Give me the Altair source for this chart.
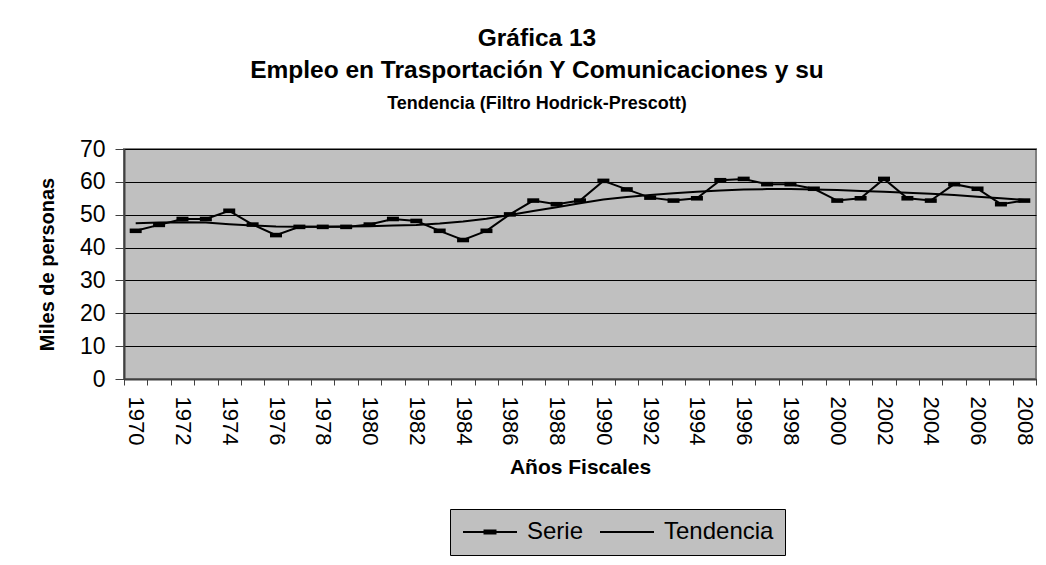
import altair as alt
import pandas as pd

# ---- data ----
years = list(range(1970, 2009))
serie = [45.1, 46.9, 48.7, 48.7, 51.2, 47.0, 43.8, 46.3, 46.3, 46.3,
         47.0, 48.7, 48.1, 45.1, 42.3, 45.1, 50.1, 54.3, 53.2, 54.3,
         60.3, 57.7, 55.2, 54.3, 55.0, 60.5, 60.9, 59.3, 59.3, 57.9,
         54.3, 55.0, 60.9, 55.0, 54.3, 59.3, 57.9, 53.2, 54.3]
tendencia = [47.4, 47.6, 47.7, 47.6, 47.1, 46.7, 46.4, 46.3, 46.3, 46.4,
             46.5, 46.7, 46.9, 47.3, 47.9, 48.8, 49.9, 51.1, 52.3, 53.5,
             54.6, 55.4, 56.0, 56.5, 57.0, 57.4, 57.7, 57.8, 57.8, 57.7,
             57.5, 57.2, 57.0, 56.7, 56.4, 56.0, 55.5, 55.0, 54.5]
series_names = ["Serie", "Tendencia"]
y_ticks = [0, 10, 20, 30, 40, 50, 60, 70]

rows = []
for name, vals in zip(series_names, [serie, tendencia]):
    for yr, v in zip(years, vals):
        rows.append({"year": yr, "value": v, "series": name})
df = pd.DataFrame(rows)

# ---- layout / style ----
W, H = 912, 230
step = W / len(years)
boundaries = [years[0] - 0.5 + i for i in range(len(years) + 1)]
FONT = "Liberation Sans"
MARKER = "M-1,-0.38H1V0.38H-1Z"
# legend symbols: drawn in units of 10px (symbolSize 400), line 54px long
LEG_SERIE = "M-1,0H4.4M1.05,-0.15H2.35M1.05,0.15H2.35"
LEG_TEND = "M-1,0H4.4"

x_enc = alt.X(
    "year:Q",
    scale=alt.Scale(domain=[years[0] - 0.5, years[-1] + 0.5], nice=False, zero=False),
    axis=alt.Axis(
        values=boundaries,
        labelExpr="(datum.value + 0.5) % 2 == 0 ? '' + (datum.value + 0.5) : ''",
        labelAngle=90, labelOffset=step / 2, labelPadding=11,
        labelFont=FONT, labelFontSize=22, labelColor="black",
        labelOverlap=False, labelFlush=False, labelBound=False,
        tickSize=6, tickColor="#404040", domainColor="#404040", domainWidth=2,
        grid=False,
        title="Años Fiscales", titleFont=FONT, titleFontSize=21,
        titleFontWeight="bold", titleColor="black",
        titleX=W / 2, titleY=88, titleAlign="center", titleBaseline="middle",
    ),
)
y_enc = alt.Y(
    "value:Q",
    scale=alt.Scale(domain=[0, 70], nice=False),
    axis=alt.Axis(
        values=y_ticks, grid=True, gridColor="black", gridWidth=1, gridOpacity=1,
        labelFont=FONT, labelFontSize=23, labelColor="black", labelPadding=10,
        tickSize=9, tickColor="#404040", domainColor="#404040", domainWidth=2,
        title="Miles de personas", titleFont=FONT, titleFontSize=20,
        titleFontWeight="bold", titleColor="black",
        titleX=-77, titleY=H / 2, titleAngle=270, titleAlign="center",
        titleBaseline="middle",
    ),
)

base = alt.Chart(df)

lines = base.mark_line(color="black", strokeWidth=2).encode(
    x=x_enc, y=y_enc, detail="series:N"
)
points = base.transform_filter(alt.datum.series == "Serie").mark_point(
    shape=MARKER, size=144, filled=True, color="black", opacity=1
).encode(x=x_enc, y=y_enc)

legend_layer = base.mark_point(opacity=0, filled=False, color="black", strokeWidth=2).encode(
    x=x_enc, y=y_enc,
    shape=alt.Shape(
        "series:N",
        scale=alt.Scale(domain=series_names, range=[LEG_SERIE, LEG_TEND]),
        legend=alt.Legend(
            title=None, orient="none", legendX=326, legendY=360,
            direction="horizontal", fillColor="#C0C0C0", strokeColor="black",
            padding=11, symbolSize=400, symbolStrokeWidth=2,
            symbolStrokeColor="black", symbolOpacity=1,
            labelFont=FONT, labelFontSize=24, labelColor="black",
            labelOffset=42, columnPadding=12,
        ),
    ),
)

chart = alt.layer(lines, points, legend_layer).properties(
    width=W, height=H,
    padding={"left": 116, "top": 141, "right": 2, "bottom": 177},
    autosize=alt.AutoSizeParams(type="none"),
    title=alt.TitleParams(
        text=["Gráfica 13", "Empleo en Trasportación Y Comunicaciones y su"],
        subtitle="Tendencia (Filtro Hodrick-Prescott)",
        font=FONT, fontSize=24.5, fontWeight="bold", color="black", lineHeight=32,
        subtitleFont=FONT, subtitleFontSize=18, subtitleFontWeight="bold",
        subtitleColor="black", subtitlePadding=12,
        anchor="middle", frame="group", dx=-43, offset=24,
    ),
).configure_view(fill="#C0C0C0", stroke="#808080", strokeWidth=2)

chart.save("out.html", embed_options={"renderer": "svg", "actions": False})
